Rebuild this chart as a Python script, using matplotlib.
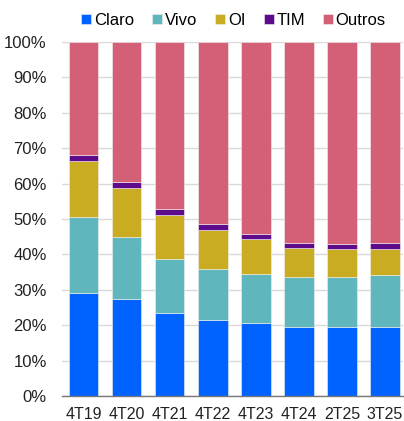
import matplotlib.pyplot as plt
import numpy as np
from matplotlib.ticker import PercentFormatter

# Market share per quarter (%)
periods = ["4T19", "4T20", "4T21", "4T22", "4T23", "4T24", "2T25", "3T25"]
claro = [29.2, 27.3, 23.4, 21.6, 20.6, 19.6, 19.4, 19.6]
vivo = [21.3, 17.5, 15.2, 14.3, 13.9, 13.9, 14.3, 14.7]
oi = [16.0, 14.0, 12.5, 11.1, 9.8, 8.4, 7.7, 7.3]
tim = [1.7, 1.7, 1.6, 1.6, 1.6, 1.4, 1.5, 1.5]
outros = [100 - a - b - c - d for a, b, c, d in zip(claro, vivo, oi, tim)]

series = [("Claro", claro, "#0062FF"), ("Vivo", vivo, "#5FB7BD"),
          ("OI", oi, "#C9AC22"), ("TIM", tim, "#5E0C8C"),
          ("Outros", outros, "#D36076")]

plt.rcParams['font.family'] = ['Liberation Sans', 'DejaVu Sans']

fig = plt.figure(figsize=(4.04, 4.21), dpi=100)
ax = fig.add_axes([62 / 404, 25 / 421, 341 / 404, 354 / 421])

x = np.arange(len(periods))
bottom = np.zeros(len(periods))
for name, vals, color in series:
    ax.bar(x, vals, bottom=bottom, width=0.69, color=color, label=name,
           edgecolor="#f0f0f0", linewidth=0.4, zorder=3)
    bottom += np.array(vals)

ax.set_ylim(0, 100)
ax.set_xlim(-0.5, 7.42)
ax.set_yticks(np.arange(0, 101, 10))
ax.yaxis.set_major_formatter(PercentFormatter(decimals=0))
ax.set_xticks(x)
ax.set_xticklabels(periods)
ax.tick_params(axis="both", length=0, labelsize=12, colors="#222222")
ax.tick_params(axis="x", labelsize=11.5, pad=8)
ax.tick_params(axis="y", pad=11)
ax.grid(axis="y", color="#d9d9d9", linewidth=1, zorder=0)
for s in ["top", "right", "left"]:
    ax.spines[s].set_visible(False)
ax.spines["bottom"].set_color("#777777")
ax.spines["bottom"].set_linewidth(1)
ax.spines["bottom"].set_zorder(4)

handles, labels = ax.get_legend_handles_labels()
fig.legend(handles, labels, loc="center", bbox_to_anchor=(0.578, 0.952), ncol=5,
           frameon=False, fontsize=12, handlelength=0.6, handleheight=0.6,
           handletextpad=0.15, columnspacing=1.1)

fig.savefig("out.png", dpi=100)
